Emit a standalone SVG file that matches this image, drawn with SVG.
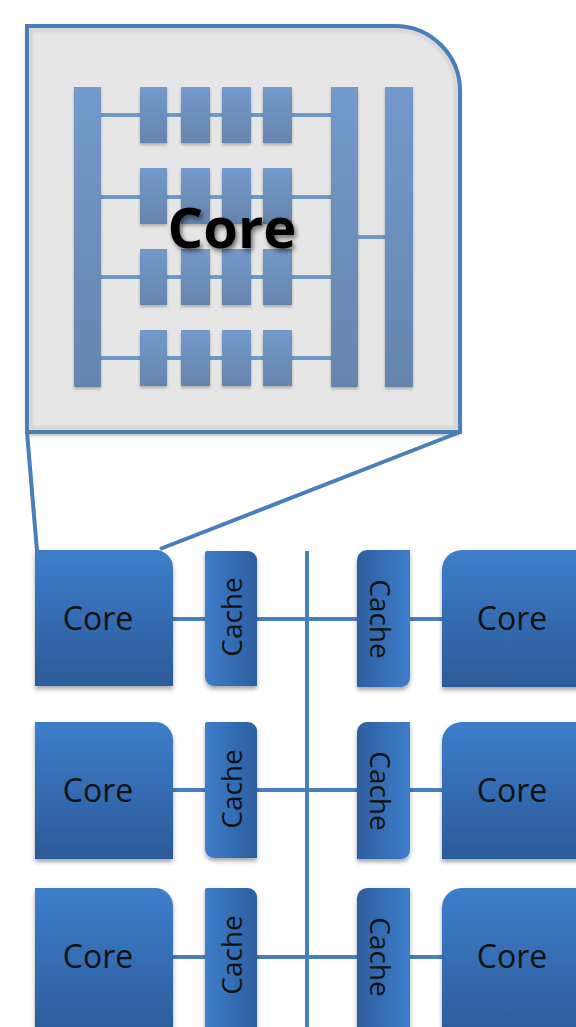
<svg xmlns="http://www.w3.org/2000/svg" width="576" height="1027" viewBox="0 0 576 1027">
  <defs>
    <linearGradient id="gCore" x1="0" y1="0" x2="0" y2="1">
      <stop offset="0" stop-color="#3d7ecb"/>
      <stop offset="1" stop-color="#2c5a98"/>
    </linearGradient>
    <linearGradient id="gCacheL" x1="0" y1="0" x2="1" y2="0">
      <stop offset="0" stop-color="#3d7ecb"/>
      <stop offset="1" stop-color="#2d5e9e"/>
    </linearGradient>
    <linearGradient id="gCacheR" x1="0" y1="0" x2="1" y2="0">
      <stop offset="0" stop-color="#2d5e9e"/>
      <stop offset="1" stop-color="#3d7ecb"/>
    </linearGradient>
    <linearGradient id="gBar" x1="0" y1="0" x2="0" y2="1">
      <stop offset="0" stop-color="#729acb"/>
      <stop offset="1" stop-color="#6585ad"/>
    </linearGradient>
    <filter id="shadow" x="-20%" y="-20%" width="140%" height="140%">
      <feDropShadow dx="0" dy="3" stdDeviation="2" flood-color="#000" flood-opacity="0.35"/>
    </filter>
    <filter id="softShadow" x="-20%" y="-20%" width="140%" height="140%">
      <feDropShadow dx="0" dy="2" stdDeviation="1.5" flood-color="#000" flood-opacity="0.25"/>
    </filter>
    <filter id="textShadow" x="-20%" y="-30%" width="140%" height="160%">
      <feDropShadow dx="2" dy="3" stdDeviation="2.5" flood-color="#000" flood-opacity="0.55"/>
    </filter>
    <filter id="blur1"><feGaussianBlur stdDeviation="1.5"/></filter>
  </defs>
  <style>
    .edge { stroke: #4a7ebb; stroke-width: 4; fill: none; }
    .wire { stroke: #6f98c9; stroke-width: 4; fill: none; }
    .core { fill: url(#gCore); filter: url(#shadow); }
    .cacheL { fill: url(#gCacheL); filter: url(#shadow); }
    .cacheR { fill: url(#gCacheR); filter: url(#shadow); }
    .bar { fill: url(#gBar); filter: url(#softShadow); }
    .label { font-family: "Open Sans", "Noto Sans", sans-serif; font-size: 32px; fill: #111; text-anchor: middle; }
    .clabel { font-family: "Open Sans", "Noto Sans", sans-serif; font-size: 28px; fill: #111; text-anchor: middle; }
  </style>

  <!-- zoomed core detail -->
  <g id="core-detail">
    <path d="M27,26 H395 A65,65 0 0 1 460,91 V432 H27 Z" fill="#e6e6e6" filter="url(#shadow)"/>
    <path d="M31,30 H395 A61,61 0 0 1 456,91 V428 H31 Z" fill="none" stroke="#cfcfcf" stroke-width="3" filter="url(#blur1)"/>
    <path d="M27,26 H395 A65,65 0 0 1 460,91 V432 H27 Z" class="edge"/>
    <g id="detail-wires">
      <line class="wire" x1="101" y1="115" x2="331" y2="115"/>
      <line class="wire" x1="101" y1="197" x2="331" y2="197"/>
      <line class="wire" x1="101" y1="277" x2="331" y2="277"/>
      <line class="wire" x1="101" y1="358" x2="331" y2="358"/>
      <line class="wire" x1="358" y1="237" x2="385" y2="237"/>
    </g>
    <rect class="bar" x="74" y="87" width="27" height="300"/>
    <rect class="bar" x="331" y="87" width="27" height="300"/>
    <rect class="bar" x="385" y="87" width="28" height="300"/>
    <g id="unit-row-1">
      <rect class="bar" x="140" y="87" width="27" height="56"/>
      <rect class="bar" x="181" y="87" width="29" height="56"/>
      <rect class="bar" x="222" y="87" width="29" height="56"/>
      <rect class="bar" x="263" y="87" width="29" height="56"/>
    </g>
    <g id="unit-row-2">
      <rect class="bar" x="140" y="168" width="27" height="56"/>
      <rect class="bar" x="181" y="168" width="29" height="56"/>
      <rect class="bar" x="222" y="168" width="29" height="56"/>
      <rect class="bar" x="263" y="168" width="29" height="56"/>
    </g>
    <g id="unit-row-3">
      <rect class="bar" x="140" y="249" width="27" height="56"/>
      <rect class="bar" x="181" y="249" width="29" height="56"/>
      <rect class="bar" x="222" y="249" width="29" height="56"/>
      <rect class="bar" x="263" y="249" width="29" height="56"/>
    </g>
    <g id="unit-row-4">
      <rect class="bar" x="140" y="330" width="27" height="56"/>
      <rect class="bar" x="181" y="330" width="29" height="56"/>
      <rect class="bar" x="222" y="330" width="29" height="56"/>
      <rect class="bar" x="263" y="330" width="29" height="56"/>
    </g>
    <text x="232" y="248" font-family="'Open Sans', 'Noto Sans', sans-serif" font-size="56" font-weight="bold" fill="#000" text-anchor="middle" filter="url(#textShadow)">Core</text>
  </g>

  <!-- connectors -->
  <g id="connectors">
    <line class="edge" x1="27" y1="432" x2="37" y2="551"/>
    <line class="edge" x1="460" y1="432" x2="160" y2="549"/>
    <line class="edge" x1="307" y1="551" x2="307" y2="1027"/>
    <line class="edge" x1="173" y1="619" x2="442" y2="619"/>
    <line class="edge" x1="173" y1="790" x2="442" y2="790"/>
    <line class="edge" x1="173" y1="957" x2="442" y2="957"/>
  </g>

  <!-- row 1 -->
  <g id="core-l1">
    <path class="core" d="M35,550 H155 A18,18 0 0 1 173,568 V686 H35 Z"/>
    <text class="label" x="98" y="630">Core</text>
  </g>
  <g id="cache-l1">
    <path class="cacheL" d="M207,551 H248 A9,9 0 0 1 257,560 V686 H214 A9,9 0 0 1 205,677 V553 A2,2 0 0 1 207,551 Z"/>
    <text class="clabel" transform="translate(242,617) rotate(-90)">Cache</text>
  </g>
  <g id="cache-r1">
    <path class="cacheR" d="M367,550 H410 V678 A9,9 0 0 1 401,687 H357 V560 A10,10 0 0 1 367,550 Z"/>
    <text class="clabel" transform="translate(370,619) rotate(90)">Cache</text>
  </g>
  <g id="core-r1">
    <path class="core" d="M462,550 H590 V687 H442 V570 A20,20 0 0 1 462,550 Z"/>
    <text class="label" x="512" y="630">Core</text>
  </g>

  <!-- row 2 -->
  <g id="core-l2">
    <path class="core" d="M35,722 H155 A18,18 0 0 1 173,740 V859 H35 Z"/>
    <text class="label" x="98" y="802">Core</text>
  </g>
  <g id="cache-l2">
    <path class="cacheL" d="M207,722 H248 A9,9 0 0 1 257,731 V858 H214 A9,9 0 0 1 205,849 V724 A2,2 0 0 1 207,722 Z"/>
    <text class="clabel" transform="translate(242,789) rotate(-90)">Cache</text>
  </g>
  <g id="cache-r2">
    <path class="cacheR" d="M367,722 H410 V850 A9,9 0 0 1 401,859 H357 V732 A10,10 0 0 1 367,722 Z"/>
    <text class="clabel" transform="translate(370,791) rotate(90)">Cache</text>
  </g>
  <g id="core-r2">
    <path class="core" d="M462,722 H590 V859 H442 V742 A20,20 0 0 1 462,722 Z"/>
    <text class="label" x="512" y="802">Core</text>
  </g>

  <!-- row 3 -->
  <g id="core-l3">
    <path class="core" d="M35,888 H155 A18,18 0 0 1 173,906 V1040 H35 Z"/>
    <text class="label" x="98" y="968">Core</text>
  </g>
  <g id="cache-l3">
    <path class="cacheL" d="M207,888 H248 A9,9 0 0 1 257,897 V1040 H205 V890 A2,2 0 0 1 207,888 Z"/>
    <text class="clabel" transform="translate(242,955) rotate(-90)">Cache</text>
  </g>
  <g id="cache-r3">
    <path class="cacheR" d="M367,888 H410 V1040 H357 V898 A10,10 0 0 1 367,888 Z"/>
    <text class="clabel" transform="translate(370,957) rotate(90)">Cache</text>
  </g>
  <g id="core-r3">
    <path class="core" d="M462,888 H590 V1040 H442 V908 A20,20 0 0 1 462,888 Z"/>
    <text class="label" x="512" y="968">Core</text>
  </g>
</svg>
